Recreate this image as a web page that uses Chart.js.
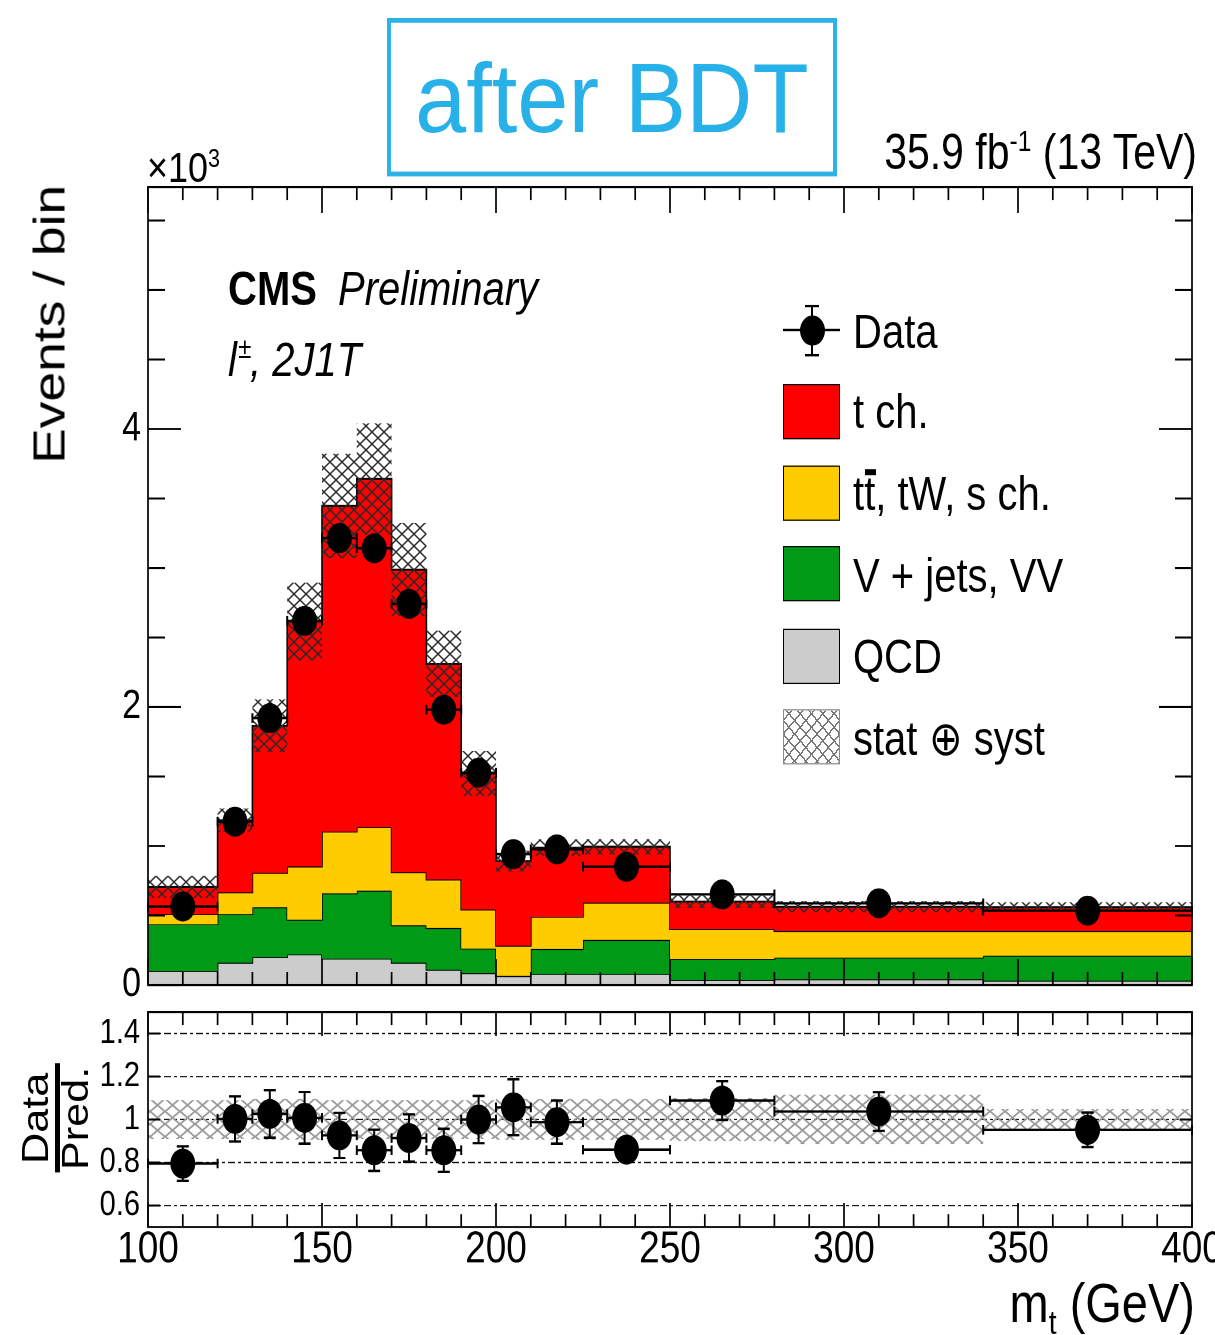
<!DOCTYPE html>
<html>
<head>
<meta charset="utf-8">
<script src="https://cdn.jsdelivr.net/npm/chart.js@4.4.1/dist/chart.umd.min.js"></script>
<style>
  html, body { margin: 0; padding: 0; background: #fff; width: 1215px; height: 1335px; overflow: hidden; }
  /* the whole figure is laid out in a frame that is stretched 1.2x vertically */
  #page { position: absolute; left: 0; top: 0; width: 1215px; height: 1112.5px;
          transform: scaleY(1.2); transform-origin: 0 0;
          font-family: "Liberation Sans", Arial, Helvetica, sans-serif; color: #000; }
  canvas { position: absolute; left: 0; }
  .t { position: absolute; white-space: nowrap; line-height: 1; }
  .vt { position: absolute; white-space: nowrap; line-height: 1; writing-mode: vertical-rl; transform: rotate(180deg); }
  .sup { position: relative; font-size: 0.6em; top: -0.62em; }
  .sw { position: absolute; left: 783px; width: 57px; height: 46px; box-sizing: border-box; border: 1.6px solid #000; }
  .lt { position: absolute; left: 853px; font-size: 40px; line-height: 1; white-space: nowrap; }
  .tb { position: relative; }
  .tb::after { content: ""; position: absolute; left: 0.02em; top: 0.05em; width: 0.28em; height: 0.12em; background: #000; }
  .bar { position: absolute; background: #000; }
</style>
</head>
<body>
<div id="page">
  <canvas id="main" width="1215" height="860" style="top:0;width:1215px;height:860px"></canvas>
  <canvas id="ratio" width="1260" height="312" style="top:800px;width:1260px;height:312px"></canvas>

  <!-- stamp box -->
  <div style="position:absolute;left:387px;top:15px;width:450px;height:131.7px;box-sizing:border-box;border:4.5px solid #2cb2e7;">
    <span class="t" style="left:24px;top:22px;font-size:92px;color:#27b1e8;transform:scaleY(0.885);transform-origin:0 0;">after BDT</span>
  </div>

  <div class="t" style="right:18px;top:107px;font-size:41px;">35.9 fb<span class="sup">-1</span> (13 TeV)</div>
  <div class="t" style="left:147px;top:122px;font-size:36px;">×10<span class="sup">3</span></div>

  <div class="t" style="left:228px;top:220px;font-size:40px;font-weight:bold;">CMS</div>
  <div class="t" style="left:338px;top:220px;font-size:40px;font-style:italic;">Preliminary</div>
  <div class="t" style="left:228px;top:279px;font-size:40px;font-style:italic;">l<span class="sup" style="left:0.06em;">±</span>, 2J1T</div>

  <!-- legend -->
  <div class="bar" style="left:783px;top:274px;width:57px;height:2px;"></div>
  <div class="bar" style="left:811px;top:254px;width:2px;height:42px;"></div>
  <div class="bar" style="left:805px;top:253.5px;width:14px;height:2px;"></div>
  <div class="bar" style="left:805px;top:294.5px;width:14px;height:2px;"></div>
  <div class="bar" style="left:799.5px;top:262.5px;width:25px;height:25px;border-radius:50%;"></div>
  <div class="lt" style="top:255.5px;">Data</div>

  <div class="sw" style="top:319.5px;background:#ff0000;"></div>
  <div class="lt" style="top:323px;">t ch.</div>

  <div class="sw" style="top:387.8px;background:#ffcc00;"></div>
  <div class="lt" style="top:391.3px;">t<span class="tb">t</span>, tW, s ch.</div>

  <div class="sw" style="top:455.3px;background:#009a16;"></div>
  <div class="lt" style="top:458.8px;">V + jets, VV</div>

  <div class="sw" style="top:523.7px;background:#cccccc;"></div>
  <div class="lt" style="top:527.2px;">QCD</div>

  <div class="sw" style="top:591.2px;border-color:#8a8a8a;background-color:#fff;
       background-image:repeating-linear-gradient(45deg,#777 0 1.3px,transparent 1.3px 8px),repeating-linear-gradient(-45deg,#777 0 1.3px,transparent 1.3px 8px);"></div>
  <div class="lt" style="top:594.7px;">stat ⊕ syst</div>

  <!-- axis titles -->
  <div class="vt" style="left:28px;top:154px;font-size:44.5px;">Events / bin</div>
  <div class="vt" style="left:18px;top:871.7px;height:120px;text-align:center;font-size:36px;">Data</div>
  <div class="vt" style="left:58px;top:871.7px;height:120px;text-align:center;font-size:36px;">Pred.</div>
  <div class="bar" style="left:55px;top:885.8px;width:5px;height:91.7px;"></div>
  <div class="t" style="right:20px;top:1062px;font-size:47px;">m<span style="position:relative;font-size:0.6em;top:0.35em;">t</span> (GeV)</div>
</div>

<script>
// ---- binning (GeV) ----
const binEdges = [100, 120, 130, 140, 150, 160, 170, 180, 190, 200, 210, 225, 250, 280, 340, 400];

// ---- predicted yields per bin (x10^3 events) ----
const qcd    = [0.10, 0.16, 0.20, 0.22, 0.19, 0.19, 0.16, 0.11, 0.085, 0.065, 0.08, 0.08, 0.036, 0.041, 0.031];
const vjets  = [0.337, 0.35, 0.359, 0.25, 0.469, 0.488, 0.269, 0.30, 0.177, 0.0, 0.179, 0.244, 0.151, 0.156, 0.18];
const topBkg = [0.073, 0.157, 0.248, 0.383, 0.445, 0.458, 0.383, 0.349, 0.281, 0.218, 0.232, 0.268, 0.216, 0.191, 0.177];
const tchan  = [0.195, 0.518, 1.058, 1.762, 2.343, 2.505, 2.176, 1.551, 0.979, 0.609, 0.497, 0.403, 0.197, 0.175, 0.172];
const mcUnc  = [0.08, 0.085, 0.19, 0.28, 0.375, 0.40, 0.335, 0.24, 0.16, 0.075, 0.06, 0.055, 0.045, 0.04, 0.035];

// ---- observed data (x10^3 events) ----
const dataVals = [0.565, 1.175, 1.92, 2.62, 3.215, 3.142, 2.742, 1.981, 1.528, 0.942, 0.976, 0.851, 0.652, 0.588, 0.535];
const dataErr  = [0.024, 0.034, 0.044, 0.051, 0.057, 0.056, 0.052, 0.045, 0.039, 0.031, 0.031, 0.029, 0.026, 0.024, 0.023];

// ---- data / prediction ----
const ratioVals = [0.795, 1.003, 1.026, 1.008, 0.926, 0.857, 0.914, 0.857, 1.0, 1.057, 0.988, 0.86, 1.088, 1.037, 0.952];
const ratioErr  = [0.08, 0.105, 0.11, 0.12, 0.105, 0.096, 0.11, 0.10, 0.11, 0.13, 0.10, 0.055, 0.09, 0.09, 0.08];
const ratioUnc  = [0.09, 0.09, 0.095, 0.095, 0.09, 0.09, 0.09, 0.09, 0.09, 0.095, 0.095, 0.095, 0.10, 0.115, 0.05];

// ---- axis ticks ----
const xTicks = [100, 150, 200, 250, 300, 350, 400];
const yTicksMain = [0, 2, 4];
const yTicksRatio = [0.6, 0.8, 1, 1.2, 1.4];

// ---- helpers ----
const centres = binEdges.slice(0, -1).map((e, i) => (e + binEdges[i + 1]) / 2);
const steps = vals => binEdges.map((e, i) => ({ x: e, y: vals[Math.min(i, vals.length - 1)] }));
const cumulate = (...parts) => parts[0].map((_, i) => parts.reduce((s, p) => s + p[i], 0));

function hatch(color, w, h, lw) {
  const k = 2;
  const c = document.createElement('canvas');
  c.width = w * k; c.height = h * k;
  const g = c.getContext('2d');
  g.scale(k, k);
  g.strokeStyle = color; g.lineWidth = lw;
  g.beginPath();
  for (const dx of [-w, 0, w]) {
    g.moveTo(dx, 0); g.lineTo(dx + w, h);
    g.moveTo(dx + w, 0); g.lineTo(dx, h);
  }
  g.stroke();
  const p = g.createPattern(c, 'repeat');
  p.setTransform(new DOMMatrix().scale(1 / k));
  return p;
}

// error bars for the data points
const errorBars = {
  id: 'errorBars',
  afterDatasetsDraw(chart, args, o) {
    if (!o.values) return;
    const { ctx, scales: { x, y } } = chart;
    ctx.save();
    ctx.strokeStyle = '#000';
    ctx.lineWidth = o.lineWidth;
    ctx.beginPath();
    o.values.forEach((v, i) => {
      const lo = x.getPixelForValue(binEdges[i]);
      const hi = x.getPixelForValue(binEdges[i + 1]);
      const cx = x.getPixelForValue(centres[i]);
      const py = y.getPixelForValue(v);
      const up = y.getPixelForValue(v + o.errors[i]);
      const dn = y.getPixelForValue(v - o.errors[i]);
      ctx.moveTo(lo, py); ctx.lineTo(hi, py);
      ctx.moveTo(lo, py - o.cap); ctx.lineTo(lo, py + o.cap);
      ctx.moveTo(hi, py - o.cap); ctx.lineTo(hi, py + o.cap);
      ctx.moveTo(cx, up); ctx.lineTo(cx, dn);
      ctx.moveTo(cx - o.capW, up); ctx.lineTo(cx + o.capW, up);
      ctx.moveTo(cx - o.capW, dn); ctx.lineTo(cx + o.capW, dn);
    });
    ctx.stroke();
    ctx.restore();
  }
};

// frame with inward ticks on all four sides, optional dashed reference lines
const axisFrame = {
  id: 'axisFrame',
  beforeDatasetsDraw(chart, args, o) {
    if (!o.dashed) return;
    const { ctx, chartArea: a, scales: { y } } = chart;
    ctx.save();
    ctx.strokeStyle = '#000'; ctx.lineWidth = 1;
    ctx.setLineDash([7, 3, 3, 3]);
    ctx.beginPath();
    o.dashed.forEach(v => { const py = y.getPixelForValue(v); ctx.moveTo(a.left, py); ctx.lineTo(a.right, py); });
    ctx.stroke();
    ctx.restore();
  },
  afterDatasetsDraw(chart, args, o) {
    const { ctx, chartArea: a, scales: { x, y } } = chart;
    ctx.save();
    ctx.strokeStyle = '#000';
    ctx.lineWidth = 1.7;
    ctx.beginPath();
    const xt = (v, len) => {
      const px = x.getPixelForValue(v);
      ctx.moveTo(px, a.bottom); ctx.lineTo(px, a.bottom - len);
      ctx.moveTo(px, a.top); ctx.lineTo(px, a.top + len);
    };
    const yt = (v, len) => {
      const py = y.getPixelForValue(v);
      ctx.moveTo(a.left, py); ctx.lineTo(a.left + len, py);
      ctx.moveTo(a.right, py); ctx.lineTo(a.right - len, py);
    };
    for (let v = x.min + o.xMinor; v < x.max - 1e-9; v += o.xMinor) {
      if (!o.xMajor.some(m => Math.abs(m - v) < 1e-9)) xt(v, o.xMinLen);
    }
    o.xMajor.forEach(v => xt(v, o.xMajLen));
    if (o.yMinor) {
      for (let v = y.min + o.yMinor; v < y.max - 1e-9; v += o.yMinor) {
        if (!o.yMajor.some(m => Math.abs(m - v) < 1e-9)) yt(v, o.yMinLen);
      }
    }
    o.yMajor.forEach(v => yt(v, o.yMajLen));
    ctx.stroke();
    ctx.strokeRect(a.left, a.top, a.right - a.left, a.bottom - a.top);
    ctx.restore();
  }
};

Chart.defaults.font.family = '"Liberation Sans", Arial, Helvetica, sans-serif';
Chart.defaults.color = '#000';

// ---- stacked prediction ----
const lvlQcd = qcd;
const lvlVj = cumulate(qcd, vjets);
const lvlTop = cumulate(qcd, vjets, topBkg);
const total = cumulate(qcd, vjets, topBkg, tchan);
const bandLo = total.map((t, i) => t - mcUnc[i]);
const bandHi = total.map((t, i) => t + mcUnc[i]);

const hist = (label, vals, color, fill, order) => ({
  label, data: steps(vals), stepped: true, fill, order,
  backgroundColor: color, borderColor: '#000', borderWidth: 1.6, pointRadius: 0
});

new Chart(document.getElementById('main'), {
  type: 'line',
  data: {
    datasets: [
      hist('QCD', lvlQcd, '#cccccc', 'origin', 6),
      hist('V + jets, VV', lvlVj, '#009a16', '-1', 5),
      hist('tt, tW, s ch.', lvlTop, '#ffcc00', '-1', 4),
      hist('t ch.', total, '#ff0000', '-1', 3),
      { label: 'unc-lo', data: steps(bandLo), stepped: true, borderWidth: 0, borderColor: 'rgba(0,0,0,0)', pointRadius: 0, fill: false, order: 2 },
      { label: 'stat ⊕ syst', data: steps(bandHi), stepped: true, borderWidth: 0, borderColor: 'rgba(0,0,0,0)', pointRadius: 0,
        fill: '-1', backgroundColor: hatch('#2a2a2a', 12, 10, 1.3), order: 1 },
      { label: 'Data', data: centres.map((c, i) => ({ x: c, y: dataVals[i] })), showLine: false,
        pointRadius: 12.5, pointBackgroundColor: '#000', pointBorderWidth: 0, order: 0 }
    ]
  },
  options: {
    responsive: false, animation: false, devicePixelRatio: 2, events: [],
    layout: { padding: { left: 0, right: 23, top: 155.83, bottom: 39.17 } },
    plugins: {
      legend: { display: false }, tooltip: { enabled: false },
      errorBars: { values: dataVals, errors: dataErr, lineWidth: 2, cap: 4, capW: 6 },
      axisFrame: { xMajor: xTicks, xMinor: 10, xMajLen: 21.7, xMinLen: 10.8,
                   yMajor: yTicksMain, yMinor: 0.5, yMajLen: 33, yMinLen: 17 }
    },
    scales: {
      x: { type: 'linear', min: 100, max: 400, display: false },
      y: {
        type: 'linear', min: 0, max: 5.741,
        afterFit: s => { s.width = 148; },
        afterBuildTicks: s => { s.ticks = yTicksMain.map(v => ({ value: v })); },
        grid: { display: false, drawTicks: false }, border: { display: false },
        ticks: { padding: 7, font: { size: 34 }, color: '#000', callback: v => String(v) }
      }
    }
  },
  plugins: [errorBars, axisFrame]
});

// ---- ratio panel ----
const rLo = ratioUnc.map(u => 1 - u);
const rHi = ratioUnc.map(u => 1 + u);

new Chart(document.getElementById('ratio'), {
  type: 'line',
  data: {
    datasets: [
      { label: 'unc-lo', data: steps(rLo), stepped: true, borderWidth: 0, borderColor: 'rgba(0,0,0,0)', pointRadius: 0, fill: false, order: 2 },
      { label: 'unc-hi', data: steps(rHi), stepped: true, borderWidth: 0, borderColor: 'rgba(0,0,0,0)', pointRadius: 0,
        fill: '-1', backgroundColor: hatch('#9a9a9a', 15, 10.8, 1.6), order: 1 },
      { label: 'Data / Pred.', data: centres.map((c, i) => ({ x: c, y: ratioVals[i] })), showLine: false,
        pointRadius: 12.5, pointBackgroundColor: '#000', pointBorderWidth: 0, order: 0 }
    ]
  },
  options: {
    responsive: false, animation: false, devicePixelRatio: 2, events: [],
    layout: { padding: { left: 0, right: 68, top: 43.33, bottom: 0 } },
    plugins: {
      legend: { display: false }, tooltip: { enabled: false },
      errorBars: { values: ratioVals, errors: ratioErr, lineWidth: 2, cap: 4, capW: 6 },
      axisFrame: { dashed: yTicksRatio, xMajor: xTicks, xMinor: 10, xMajLen: 20, xMinLen: 10.8,
                   yMajor: yTicksRatio, yMinor: null, yMajLen: 12 }
    },
    scales: {
      x: {
        type: 'linear', min: 100, max: 400,
        afterFit: s => { s.height = 89.5; },
        afterBuildTicks: s => { s.ticks = xTicks.map(v => ({ value: v })); },
        grid: { display: false, drawTicks: false }, border: { display: false },
        ticks: { autoSkip: false, maxRotation: 0, padding: 1, font: { size: 37, lineHeight: 1 }, color: '#000', callback: v => String(v) }
      },
      y: {
        type: 'linear', min: 0.5, max: 1.5,
        afterFit: s => { s.width = 148; },
        afterBuildTicks: s => { s.ticks = yTicksRatio.map(v => ({ value: v })); },
        grid: { display: false, drawTicks: false }, border: { display: false },
        ticks: { padding: 8, font: { size: 29 }, color: '#000', callback: v => String(v) }
      }
    }
  },
  plugins: [errorBars, axisFrame]
});
</script>
</body>
</html>
